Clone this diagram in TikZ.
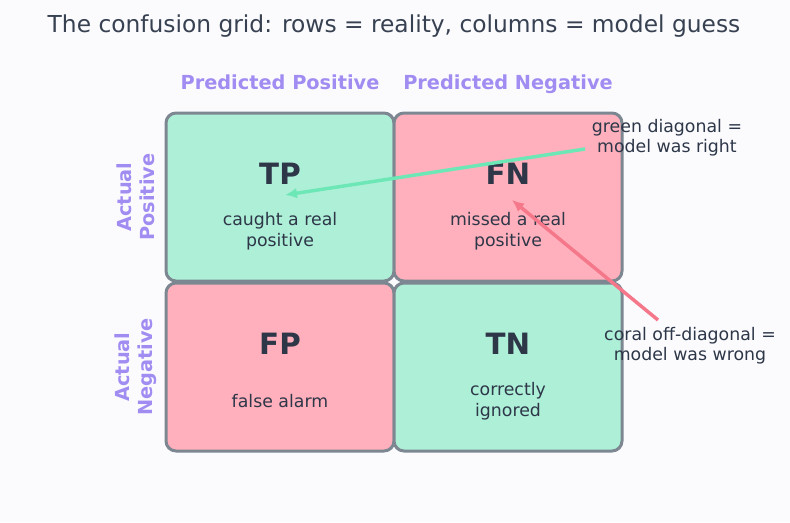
\documentclass[tikz,border=0pt]{standalone}
\usepackage{fontspec}
\setmainfont{DejaVu Sans}
\usetikzlibrary{arrows.meta}
\definecolor{bgc}{HTML}{FBFBFE}
\definecolor{titlec}{HTML}{374151}
\definecolor{darkc}{HTML}{2D3748}
\definecolor{purplec}{HTML}{A18CF2}
\definecolor{greenfill}{HTML}{AEEFD8}
\definecolor{pinkfill}{HTML}{FFB0BC}
\definecolor{borderc}{HTML}{7D8791}
\definecolor{greenarrow}{HTML}{6EE7B7}
\definecolor{coralarrow}{HTML}{F4778A}
\tikzset{
  cell/.style={draw=borderc, line width=2.25pt, rounded corners=7.5pt,
    minimum width=171pt, minimum height=126pt, inner sep=0pt},
  goodcell/.style={cell, fill=greenfill},
  badcell/.style={cell, fill=pinkfill},
  bigtag/.style={text=darkc, font=\bfseries\fontsize{22}{26}\selectfont},
  subtext/.style={text=darkc, align=center, font=\fontsize{13}{15.75}\selectfont},
  header/.style={text=purplec, anchor=base, font=\bfseries\fontsize{14.5}{17}\selectfont},
  rowhead/.style={text=purplec, align=center, rotate=90, font=\bfseries\fontsize{14.5}{17.25}\selectfont},
  annot/.style={text=darkc, align=center, font=\fontsize{13}{15}\selectfont, inner sep=2pt},
  pointer/.style={line width=2.6pt, -{Latex[length=9pt,width=8pt]}}
}
\begin{document}
\begin{tikzpicture}[x=0.75pt,y=-0.75pt]
\fill[bgc] (0,0) rectangle (790,522);
\useasboundingbox (0,0) rectangle (790,522);

\node[text=titlec, font=\fontsize{17.5}{21}\selectfont] (title) at (394,26) {The confusion grid: rows = reality, columns = model guess};

\node[header] (hpp) at (280,89) {Predicted Positive};
\node[header] (hpn) at (508,89) {Predicted Negative};

\node[rowhead] (rap) at (136,197) {Actual\\Positive};
\node[rowhead] (ran) at (136,367) {Actual\\Negative};

\node[goodcell] (tp) at (280,197) {};
\node[badcell] (fn) at (508,197) {};
\node[badcell] (fp) at (280,367) {};
\node[goodcell] (tn) at (508,367) {};

\node[bigtag] (tpl) at (280,174) {TP};
\node[bigtag] (fnl) at (508,174) {FN};
\node[bigtag] (fpl) at (280,344) {FP};
\node[bigtag] (tnl) at (508,344) {TN};

\node[subtext] (tps) at (280,231) {caught a real\\positive};
\node[subtext] (fns) at (508,231) {missed a real\\positive};
\node[subtext] (fps) at (280,401) {false alarm};
\node[subtext] (tns) at (508,401) {correctly\\ignored};

\node[annot] (ga) at (667,138) {green diagonal =\\model was right};
\node[annot] (ca) at (690,346) {coral off-diagonal =\\model was wrong};

\coordinate (gstart) at (585,149);
\coordinate (gend) at (285,195);
\coordinate (cstart) at (658,320);
\coordinate (cend) at (512,200);

\draw[pointer, greenarrow] (gstart) -- (gend);
\draw[pointer, coralarrow] (cstart) -- (cend);
\end{tikzpicture}
\end{document}
